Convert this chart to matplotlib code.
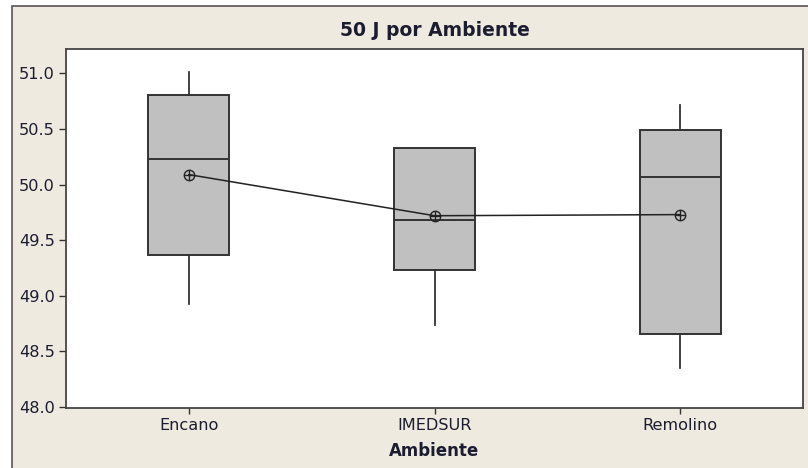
import matplotlib
matplotlib.use("Agg")
import matplotlib.pyplot as plt
from matplotlib.patches import Rectangle

# ---- data ----
categories = ["Encano", "IMEDSUR", "Remolino"]
whisker_low = [48.93, 48.74, 48.35]
q1 = [49.37, 49.23, 48.66]
medians = [50.23, 49.68, 50.07]
q3 = [50.81, 50.33, 50.49]
whisker_high = [51.01, 50.33, 50.72]
means = [50.09, 49.72, 49.73]
yticks = [48.0, 48.5, 49.0, 49.5, 50.0, 50.5, 51.0]

W, H = 808, 468
fig = plt.figure(figsize=(W / 100, H / 100), dpi=100)
fig.patch.set_facecolor("white")

bg = "#EEEAE0"
txt = "#1c1c30"
edge = "#333333"

# outer panel with border
fig.patches.append(Rectangle((12 / W, -0.05), 1.2, (H - 6) / H + 0.05,
                             transform=fig.transFigure, facecolor=bg,
                             edgecolor="#555555", linewidth=1.2, zorder=-10))

ax = fig.add_axes([66 / W, (H - 408) / H, (803 - 66) / W, (408 - 49) / H])
ax.set_zorder(1)
ax.set_facecolor("white")

stats = []
for i, c in enumerate(categories):
    stats.append(dict(label=c, whislo=whisker_low[i], q1=q1[i], med=medians[i],
                      q3=q3[i], whishi=whisker_high[i], fliers=[]))

positions = list(range(1, len(categories) + 1))
ax.bxp(stats, positions=positions, widths=0.33, patch_artist=True,
       showcaps=False, showfliers=False,
       boxprops=dict(facecolor="#C0C0C0", edgecolor=edge, linewidth=1.4),
       medianprops=dict(color=edge, linewidth=1.4),
       whiskerprops=dict(color=edge, linewidth=1.3))

ax.plot(positions, means, color="#222222", linewidth=1.1, zorder=5)
ax.plot(positions, means, linestyle="none", marker="o", markersize=7.5,
        markerfacecolor="none", markeredgecolor="#222222", markeredgewidth=1.0, zorder=6)
ax.plot(positions, means, linestyle="none", marker="+", markersize=7.5,
        markeredgecolor="#222222", markeredgewidth=1.0, zorder=6)

ax.set_xlim(0.5, 3.5)
ax.set_ylim(47.99, 51.22)
ax.set_yticks(yticks)
ax.set_yticklabels([f"{v:.1f}" for v in yticks])
ax.set_xticks(positions)
ax.set_xticklabels(categories)

for s in ax.spines.values():
    s.set_color("#444444")
    s.set_linewidth(1.3)

ax.tick_params(axis="both", direction="out", color="#333333", labelcolor=txt,
               labelsize=11.6, width=1.0)
ax.tick_params(axis="y", length=5, pad=3)
ax.tick_params(axis="x", length=4.5, pad=3)

ax.set_xlabel("Ambiente", fontsize=12, fontweight="bold", color=txt, labelpad=6)
fig.text((66 + 803) / 2 / W, 1 - 30 / H, "50 J por Ambiente", ha="center", va="center",
         fontsize=13.5, fontweight="bold", color=txt)

fig.savefig("out.png", dpi=100, facecolor=fig.get_facecolor())
